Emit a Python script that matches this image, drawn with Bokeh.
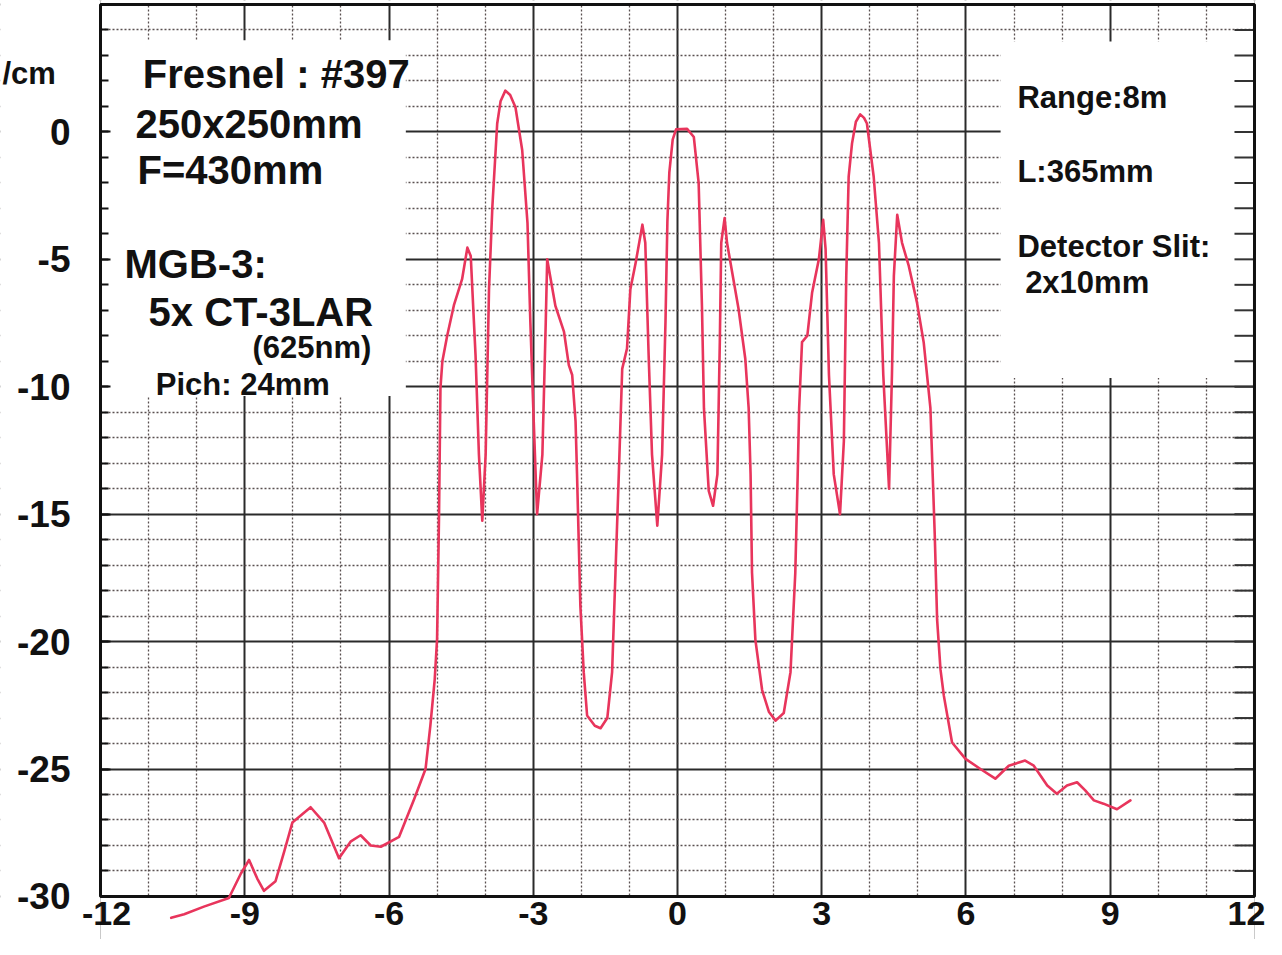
from bokeh.plotting import figure
from bokeh.models import FixedTicker, Label, Range1d
from bokeh.core.properties import value
from bokeh.embed import file_html
from bokeh.resources import INLINE

# ---- data ----
curve_x = [-10.53, -10.26, -9.85, -9.33, -9.08, -8.91, -8.74, -8.60, -8.36, -8.18,
           -8.01, -7.63, -7.35, -7.04, -6.80, -6.59, -6.38, -6.17, -5.79, -5.48,
           -5.24, -5.14, -5.05, -5.00, -4.96, -4.93, -4.89, -4.79, -4.65, -4.48,
           -4.37, -4.30, -4.20, -4.13, -4.06, -3.99, -3.92, -3.85, -3.75, -3.68, -3.58,
           -3.48, -3.37, -3.23, -3.12, -3.06, -2.99, -2.92, -2.81, -2.74, -2.71, -2.54,
           -2.36, -2.26, -2.19, -2.12, -2.09, -2.02, -1.95, -1.88, -1.72, -1.60, -1.46,
           -1.36, -1.29, -1.22, -1.15, -1.05, -0.98, -0.87, -0.73, -0.67, -0.60,
           -0.53, -0.42, -0.32, -0.25, -0.21, -0.17, -0.10, -0.03, 0.20, 0.34,
           0.44, 0.51, 0.55, 0.65, 0.74, 0.83, 0.88, 0.91, 0.98, 1.03,
           1.27, 1.41, 1.48, 1.52, 1.55, 1.62, 1.76, 1.90, 2.04, 2.21, 2.35,
           2.45, 2.50, 2.53, 2.59, 2.70, 2.80, 2.94, 3.03, 3.08, 3.15,
           3.25, 3.38, 3.46, 3.51, 3.56, 3.63, 3.71, 3.80, 3.88, 3.94, 4.08, 4.19,
           4.28, 4.35, 4.40, 4.46, 4.50, 4.57, 4.67, 4.81, 4.98, 5.12,
           5.26, 5.35, 5.40, 5.47, 5.54, 5.71, 5.99, 6.30, 6.61, 6.89,
           7.23, 7.41, 7.69, 7.89, 8.10, 8.31, 8.48, 8.66, 8.86, 9.14, 9.42]
curve_y = [-30.84, -30.70, -30.40, -30.06, -29.10, -28.57, -29.30, -29.78, -29.40, -28.24,
           -27.10, -26.50, -27.10, -28.50, -27.85, -27.60, -28.00, -28.05, -27.66, -26.20,
           -25.00, -23.30, -21.50, -19.90, -15.10, -10.05, -9.00, -8.00, -6.80, -5.78,
           -4.54, -4.87, -8.77, -12.66, -15.26, -12.66, -6.17, -2.92, 0.32, 1.20, 1.62,
           1.45, 0.97, -0.71, -3.57, -7.47, -11.36, -15.00, -12.66, -7.47, -5.00, -6.82,
           -7.85, -9.15, -9.54, -11.36, -13.40, -18.60, -21.20, -22.90, -23.30, -23.40, -23.00,
           -21.20, -17.30, -13.40, -9.30, -8.50, -6.17, -5.13, -3.64, -4.35, -8.77,
           -12.66, -15.45, -12.66, -7.47, -3.50, -1.60, -0.30, 0.10, 0.12, -0.20,
           -2.00, -6.95, -10.84, -14.09, -14.67, -13.44, -8.25, -4.35, -3.38, -4.35,
           -6.95, -8.90, -10.84, -13.44, -17.30, -19.93, -21.90, -22.75, -23.10, -22.80, -21.20,
           -17.30, -13.44, -10.84, -8.25, -8.00, -6.30, -5.00, -3.45, -4.60, -9.54,
           -13.44, -15.00, -12.14, -5.65, -1.75, -0.45, 0.40, 0.69, 0.55, 0.33, -1.75, -4.35,
           -9.54, -12.14, -14.00, -9.54, -5.65, -3.25, -4.35, -5.26, -6.69, -8.25,
           -10.84, -15.80, -19.15, -21.10, -22.13, -23.96, -24.60, -25.00, -25.38, -24.87,
           -24.67, -24.87, -25.65, -25.97, -25.65, -25.52, -25.84, -26.23, -26.36, -26.58, -26.23]

x_ticks = [-12, -9, -6, -3, 0, 3, 6, 9, 12]
x_tick_labels = ["-12", "-9", "-6", "-3", "0", "3", "6", "9", "12"]
x_minor = [v for v in range(-12, 13) if v % 3 != 0]
y_ticks = [-30, -25, -20, -15, -10, -5, 0]
y_tick_labels = ["-30", "-25", "-20", "-15", "-10", "-5", "0"]
y_grid_major = [-30, -25, -20, -15, -10, -5, 0, 5]
y_minor = [v for v in range(-30, 6) if v % 5 != 0]
y_all = list(range(-30, 6))

left_notes = ["Fresnel : #397", "250x250mm", "F=430mm", "MGB-3:", "5x CT-3LAR", "(625nm)", "Pich: 24mm"]
right_notes = ["Range:8m", "L:365mm", "Detector Slit:", "2x10mm"]
unit_label = "/cm"

FONT = "Liberation Sans"
INK = "#111111"
RED = "#e8355c"

X0, X1 = -14.08, 12.25
Y0, Y1 = -31.69, 5.157

p = figure(width=1266, height=939, x_range=Range1d(X0, X1), y_range=Range1d(Y0, Y1),
           output_backend="svg", toolbar_location=None,
           min_border_left=0, min_border_right=0, min_border_top=0, min_border_bottom=0)
p.outline_line_color = None
p.background_fill_color = "white"
p.border_fill_color = "white"

# grids
p.xgrid.ticker = FixedTicker(ticks=x_ticks, minor_ticks=x_minor)
p.ygrid.ticker = FixedTicker(ticks=y_grid_major, minor_ticks=y_minor)
for g in (p.xgrid, p.ygrid):
    g.grid_line_color = "#2a2a2a"
    g.grid_line_width = 2
    g.minor_grid_line_color = "#5a5050"
    g.minor_grid_line_width = 1.3
    g.minor_grid_line_dash = "2 2"

p.xaxis.visible = False

# y axis fixed on the left frame edge (x = -12)
ya = p.yaxis[0]
ya.fixed_location = -12
ya.ticker = FixedTicker(ticks=y_ticks, minor_ticks=y_all)
ya.major_label_overrides = {t: l for t, l in zip(y_ticks, y_tick_labels)}
ya.axis_line_color = None
ya.major_tick_in = 10
ya.major_tick_out = 0
ya.minor_tick_in = 8
ya.minor_tick_out = 0
ya.major_tick_line_color = INK
ya.minor_tick_line_color = INK
ya.major_tick_line_width = 2
ya.minor_tick_line_width = 2
ya.major_label_standoff = 30
ya.major_label_text_font = FONT
ya.major_label_text_font_style = "bold"
ya.major_label_text_font_size = "37px"
ya.major_label_text_color = INK

# white covers outside the plotting box, and the two note boxes
p.quad(left=[X0, 12, -12, -12], right=[-12, X1, 12, 12], bottom=[Y0, Y0, Y0, 5],
       top=[Y1, Y1, -30, Y1], fill_color="white", line_color=None)
p.quad(left=[-12], right=[-5.65], bottom=[-10.36], top=[3.6], fill_color="white", line_color=None)
p.quad(left=[6.72], right=[12], bottom=[-9.66], top=[3.55], fill_color="white", line_color=None)

# right-edge ticks (one per unit)
p.segment(x0=[12 - 20 / 48.08] * len(y_all), y0=y_all, x1=[12] * len(y_all), y1=y_all,
          line_color="#333333", line_width=2)

# frame
p.quad(left=[-12], right=[12], bottom=[-30], top=[5], fill_color=None,
       line_color=INK, line_width=3)

# curve
p.line(curve_x, curve_y, line_color=RED, line_width=2.6, line_join="round", line_cap="round")

# x tick labels under the frame
p.text(x=x_ticks, y=[-30.68] * len(x_ticks), text=x_tick_labels,
       x_offset=[6, 0, 0, 0, 0, 0, 0, 0, -8],
       text_align="center", text_baseline="alphabetic", text_font_size="34px",
       text_font_style="bold", text_color=INK, text_font=value(FONT))

# notes
left_pos = [(-11.12, 2.26, 40), (-11.27, 0.31, 40), (-11.23, -1.48, 40), (-11.5, -5.18, 40),
            (-11.0, -7.05, 40), (-8.84, -8.45, 31), (-10.85, -9.93, 31)]
for t, (x, y, s) in zip(left_notes, left_pos):
    p.add_layout(Label(x=x, y=y, text=t, text_font=FONT, text_font_style="bold",
                       text_font_size=f"{s}px", text_color=INK, text_baseline="alphabetic"))
right_pos = [(7.07, 1.36), (7.07, -1.56), (7.07, -4.48), (7.23, -5.92)]
for t, (x, y) in zip(right_notes, right_pos):
    p.add_layout(Label(x=x, y=y, text=t, text_font=FONT, text_font_style="bold",
                       text_font_size="31px", text_color=INK, text_baseline="alphabetic"))
p.add_layout(Label(x=-14.04, y=2.30, text=unit_label, text_font=FONT, text_font_style="bold",
                   text_font_size="31px", text_color=INK, text_baseline="alphabetic"))

open("out.html", "w").write(file_html(p, INLINE))
